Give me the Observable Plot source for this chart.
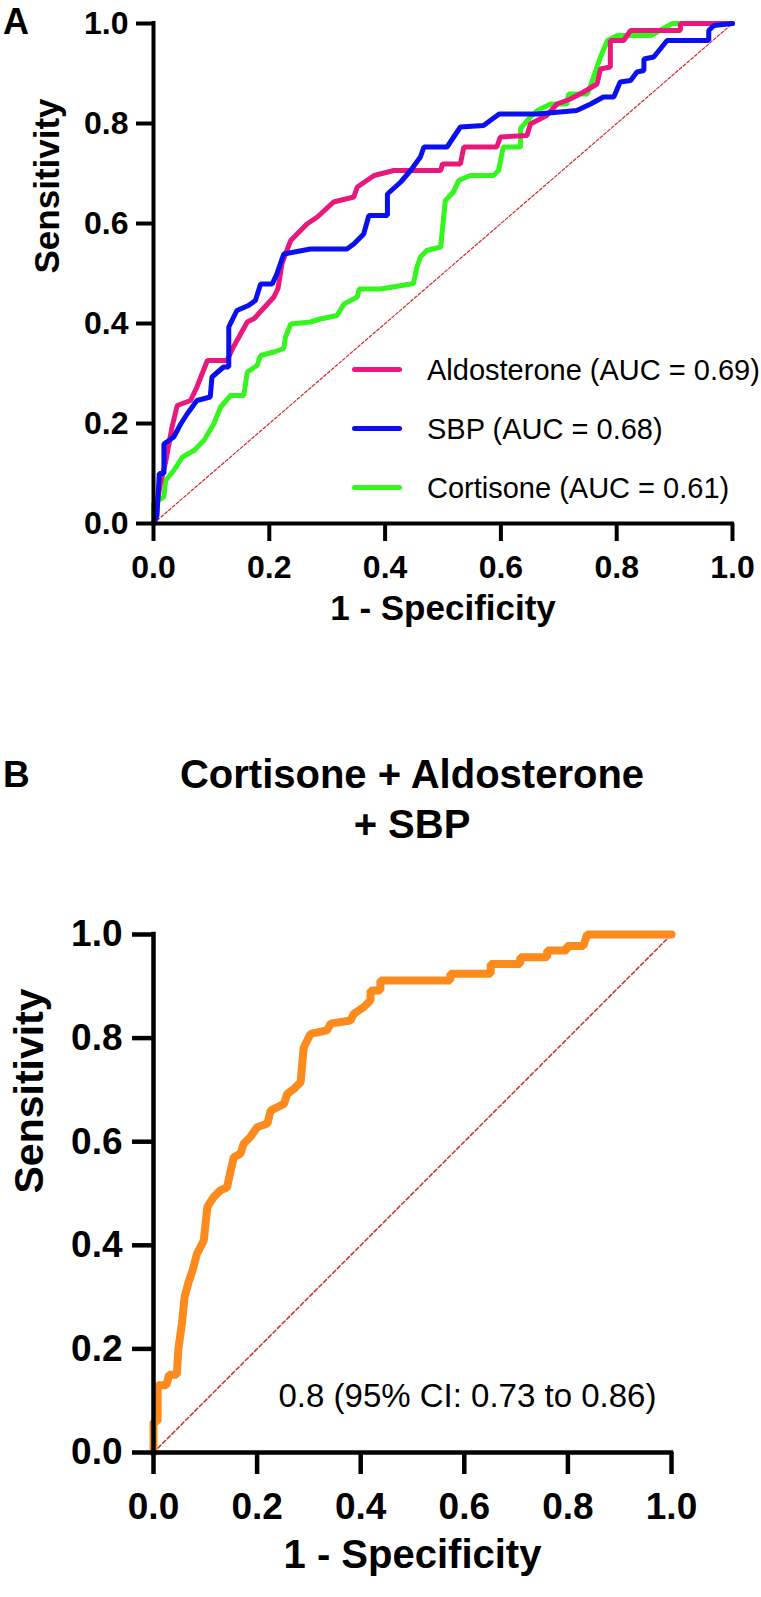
<!DOCTYPE html>
<html>
<head>
<meta charset="utf-8">
<script src="https://cdn.jsdelivr.net/npm/d3@7"></script>
<script src="https://cdn.jsdelivr.net/npm/@observablehq/plot@0.6"></script>
<style>
  html, body { margin: 0; padding: 0; background: #fff; }
  #page { position: relative; width: 761px; height: 1597px; overflow: hidden; font-family: "Liberation Sans", Arial, sans-serif; color: #000; }
  .abs { position: absolute; white-space: nowrap; }
  .panel { position: absolute; left: 0; }
</style>
</head>
<body>
<div id="page"></div>
<script>
// ---------------- DATA ----------------
const tickValues = [0, 0.2, 0.4, 0.6, 0.8, 1.0];
const panelLetters = ["A", "B"];
const xLabel = "1 - Specificity";
const yLabel = "Sensitivity";
const chance = [0, 1];

const seriesNames = ["Aldosterone", "SBP", "Cortisone"];
const seriesAUC = [0.69, 0.68, 0.61];

// Aldosterone ROC
const aldoFpr = [0, 0.012, 0.021, 0.032, 0.041, 0.064, 0.075, 0.093, 0.127, 0.138, 0.162, 0.174, 0.208, 0.215, 0.222, 0.23, 0.237, 0.265, 0.283, 0.311, 0.346, 0.352, 0.381, 0.415, 0.496, 0.499, 0.53, 0.536, 0.593, 0.599, 0.645, 0.651, 0.679, 0.697, 0.72, 0.743, 0.766, 0.772, 0.789, 0.789, 0.812, 0.824, 0.91, 0.91, 1.0];
const aldoTpr = [0, 0.08, 0.123, 0.193, 0.236, 0.246, 0.273, 0.326, 0.326, 0.353, 0.403, 0.41, 0.453, 0.47, 0.52, 0.545, 0.566, 0.599, 0.613, 0.643, 0.653, 0.673, 0.696, 0.706, 0.706, 0.719, 0.719, 0.753, 0.753, 0.773, 0.776, 0.799, 0.816, 0.839, 0.849, 0.863, 0.879, 0.909, 0.913, 0.966, 0.966, 0.986, 0.986, 1.0, 1.0];

// SBP ROC
const sbpFpr = [0, 0.006, 0.01, 0.018, 0.018, 0.035, 0.047, 0.058, 0.075, 0.098, 0.101, 0.121, 0.13, 0.13, 0.144, 0.164, 0.176, 0.185, 0.205, 0.213, 0.225, 0.271, 0.334, 0.346, 0.363, 0.372, 0.404, 0.404, 0.427, 0.444, 0.461, 0.467, 0.507, 0.53, 0.57, 0.597, 0.663, 0.731, 0.755, 0.777, 0.795, 0.806, 0.824, 0.835, 0.847, 0.847, 0.864, 0.887, 0.959, 0.959, 0.968, 1.0];
const sbpTpr = [0, 0.016, 0.1, 0.1, 0.159, 0.173, 0.199, 0.219, 0.246, 0.253, 0.293, 0.313, 0.313, 0.393, 0.426, 0.436, 0.446, 0.479, 0.479, 0.499, 0.539, 0.549, 0.549, 0.559, 0.579, 0.616, 0.616, 0.659, 0.683, 0.706, 0.733, 0.753, 0.753, 0.793, 0.796, 0.819, 0.819, 0.826, 0.839, 0.853, 0.853, 0.883, 0.886, 0.903, 0.906, 0.929, 0.933, 0.966, 0.966, 0.986, 0.996, 1.0];

// Cortisone ROC
const cortFpr = [0, 0, 0.018, 0.021, 0.035, 0.05, 0.07, 0.087, 0.104, 0.116, 0.133, 0.156, 0.162, 0.179, 0.185, 0.208, 0.225, 0.228, 0.237, 0.271, 0.288, 0.317, 0.329, 0.352, 0.355, 0.392, 0.449, 0.455, 0.461, 0.472, 0.496, 0.504, 0.518, 0.527, 0.547, 0.587, 0.596, 0.604, 0.634, 0.634, 0.651, 0.663, 0.686, 0.714, 0.717, 0.749, 0.754, 0.76, 0.772, 0.784, 0.801, 0.859, 0.896, 1.0];
const cortTpr = [0, 0.04, 0.053, 0.086, 0.106, 0.133, 0.146, 0.166, 0.199, 0.233, 0.256, 0.256, 0.303, 0.316, 0.336, 0.343, 0.35, 0.373, 0.399, 0.403, 0.409, 0.416, 0.439, 0.453, 0.469, 0.469, 0.48, 0.513, 0.533, 0.546, 0.553, 0.646, 0.663, 0.686, 0.696, 0.696, 0.706, 0.753, 0.753, 0.79, 0.813, 0.826, 0.839, 0.839, 0.859, 0.859, 0.873, 0.893, 0.933, 0.966, 0.976, 0.976, 1.0, 1.0];

// Combined model ROC (panel B)
const comboTitle = ["Cortisone + Aldosterone", "+ SBP"];
const comboAUC = 0.8;
const comboCI = [0.73, 0.86];
const comboFpr = [0, 0, 0.008, 0.008, 0.025, 0.03, 0.045, 0.048, 0.055, 0.06, 0.068, 0.075, 0.084, 0.097, 0.104, 0.116, 0.129, 0.142, 0.149, 0.155, 0.168, 0.174, 0.187, 0.2, 0.22, 0.226, 0.252, 0.258, 0.271, 0.284, 0.29, 0.303, 0.335, 0.342, 0.38, 0.387, 0.406, 0.419, 0.419, 0.438, 0.438, 0.573, 0.573, 0.651, 0.651, 0.708, 0.708, 0.76, 0.76, 0.798, 0.798, 0.83, 0.837, 1.0];
const comboTpr = [0, 0.06, 0.06, 0.13, 0.13, 0.15, 0.15, 0.2, 0.25, 0.3, 0.33, 0.35, 0.384, 0.409, 0.474, 0.493, 0.506, 0.512, 0.544, 0.57, 0.577, 0.596, 0.609, 0.628, 0.635, 0.66, 0.673, 0.692, 0.702, 0.715, 0.782, 0.808, 0.815, 0.828, 0.834, 0.847, 0.86, 0.873, 0.892, 0.892, 0.911, 0.911, 0.924, 0.924, 0.943, 0.943, 0.956, 0.956, 0.969, 0.969, 0.978, 0.978, 1.0, 1.0];

// ---------------- STYLES ----------------
const FONT = "Liberation Sans, Arial, sans-serif";
const colors = { Aldosterone: "#e8187d", SBP: "#0a0ff0", Cortisone: "#35f51e", combo: "#fd8a1c", chance: "#d42a2a" };

const toPts = (xs, ys) => xs.map((x, i) => ({ x, y: ys[i] }));
const fmt = d3.format(".1f");
const page = document.getElementById("page");

function addText(txt, css) {
  const d = document.createElement("div");
  d.className = "abs";
  d.textContent = txt;
  Object.assign(d.style, css);
  page.appendChild(d);
  return d;
}

// ---------------- PANEL A ----------------
const seriesA = {
  Aldosterone: toPts(aldoFpr, aldoTpr),
  SBP: toPts(sbpFpr, sbpTpr),
  Cortisone: toPts(cortFpr, cortTpr)
};
const drawOrderA = ["Cortisone", "Aldosterone", "SBP"];

const plotA = Plot.plot({
  width: 761, height: 660,
  marginLeft: 153, marginRight: 29, marginTop: 23, marginBottom: 137,
  style: { fontFamily: FONT, background: "transparent", overflow: "visible" },
  x: { domain: [0, 1], axis: null },
  y: { domain: [0, 1], axis: null },
  marks: [
    Plot.line(chance, { x: d => d, y: d => d, stroke: colors.chance, strokeWidth: 1.2, strokeDasharray: "3,2" }),
    ...drawOrderA.map(k => Plot.line(seriesA[k], { x: "x", y: "y", stroke: colors[k], strokeWidth: 5, strokeLinejoin: "miter", strokeLinecap: "round" })),
    Plot.ruleX([0], { stroke: "#000", strokeWidth: 4, strokeLinecap: "square" }),
    Plot.ruleY([0], { stroke: "#000", strokeWidth: 4, strokeLinecap: "square" }),
    Plot.axisY({ ticks: tickValues, tickFormat: fmt, tickSize: 17, tickPadding: 8, strokeWidth: 4, fontSize: 32, fontWeight: "bold", label: null }),
    Plot.axisX({ ticks: tickValues, tickFormat: fmt, tickSize: 18, tickPadding: 14, strokeWidth: 4, fontSize: 32, fontWeight: "bold", label: null }),
    Plot.text([xLabel], { text: d => d, frameAnchor: "bottom", dy: 96, fontSize: 35, fontWeight: "bold" }),
    Plot.text([yLabel], { text: d => d, frameAnchor: "left", dx: -106, rotate: -90, fontSize: 35, fontWeight: "bold" })
  ]
});
plotA.classList.add("panel");
plotA.style.top = "0px";
page.appendChild(plotA);

// legend (HTML, inside panel A)
seriesNames.forEach((name, i) => {
  const cy = 369 + i * 59;
  const sw = document.createElement("div");
  sw.className = "abs";
  Object.assign(sw.style, { left: "352px", top: (cy - 2.5) + "px", width: "50px", height: "5px", borderRadius: "3px", background: colors[name] });
  page.appendChild(sw);
  addText(`${name} (AUC = ${seriesAUC[i].toFixed(2)})`, { left: "427px", top: (cy + 11 - 24.5) + "px", fontSize: "29px", lineHeight: "29px" });
});

// ---------------- PANEL B ----------------
const comboPts = toPts(comboFpr, comboTpr);
const plotB = Plot.plot({
  width: 761, height: 897,
  marginLeft: 153, marginRight: 90, marginTop: 234, marginBottom: 145,
  style: { fontFamily: FONT, background: "transparent", overflow: "visible" },
  x: { domain: [0, 1], axis: null },
  y: { domain: [0, 1], axis: null },
  marks: [
    Plot.line(chance, { x: d => d, y: d => d, stroke: colors.chance, strokeWidth: 1.5, strokeDasharray: "4,2.5" }),
    Plot.line(comboPts, { x: "x", y: "y", stroke: colors.combo, strokeWidth: 8, strokeLinejoin: "miter", strokeLinecap: "round" }),
    Plot.ruleX([0], { stroke: "#000", strokeWidth: 4.5, strokeLinecap: "square" }),
    Plot.ruleY([0], { stroke: "#000", strokeWidth: 4.5, strokeLinecap: "square" }),
    Plot.axisY({ ticks: tickValues, tickFormat: fmt, tickSize: 21, tickPadding: 10, strokeWidth: 4.5, fontSize: 37, fontWeight: "bold", label: null }),
    Plot.axisX({ ticks: tickValues, tickFormat: fmt, tickSize: 22, tickPadding: 18, strokeWidth: 4.5, fontSize: 37, fontWeight: "bold", label: null }),
    Plot.text([`${comboAUC} (95% CI: ${comboCI[0]} to ${comboCI[1]})`], { text: d => d, frameAnchor: "bottom-left", textAnchor: "start", dx: 125, dy: -46, fontSize: 33 }),
    Plot.text([xLabel], { text: d => d, frameAnchor: "bottom", dy: 115, fontSize: 40, fontWeight: "bold" }),
    Plot.text([yLabel], { text: d => d, frameAnchor: "left", dx: -124, rotate: -90, fontSize: 41, fontWeight: "bold" })
  ]
});
plotB.classList.add("panel");
plotB.style.top = "700px";
page.appendChild(plotB);

// panel letters and title
addText(panelLetters[0], { left: "3px", top: "4px", fontSize: "36px", lineHeight: "36px", fontWeight: "bold" });
addText(panelLetters[1], { left: "3px", top: "756px", fontSize: "37px", lineHeight: "37px", fontWeight: "bold" });
const t = document.createElement("div");
t.className = "abs";
Object.assign(t.style, { left: "153px", width: "518px", top: "749px", textAlign: "center", fontSize: "40px", lineHeight: "50px", fontWeight: "bold", whiteSpace: "normal" });
t.innerHTML = comboTitle.map(s => `<div>${s}</div>`).join("");
page.appendChild(t);
</script>
</body>
</html>
